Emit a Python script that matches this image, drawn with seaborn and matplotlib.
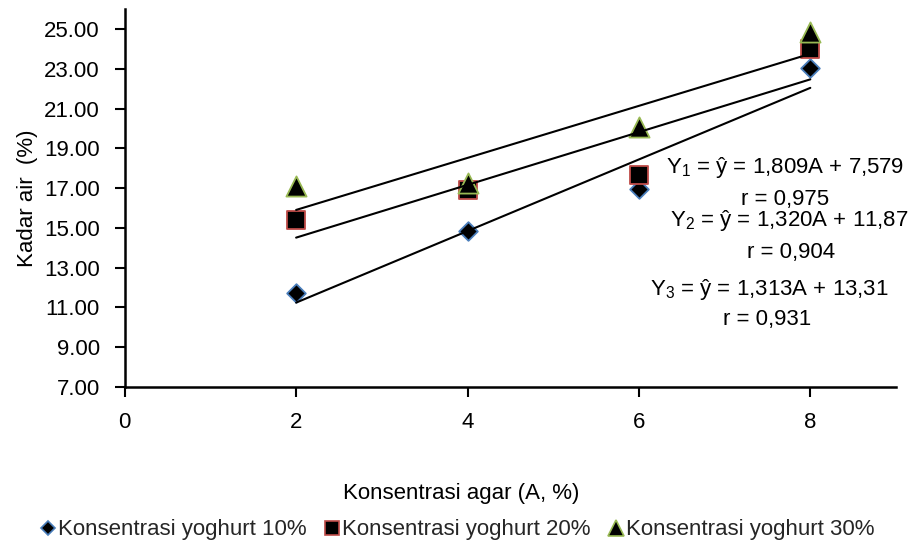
import matplotlib
matplotlib.use("Agg")
import matplotlib.pyplot as plt
import seaborn as sns
import pandas as pd
import numpy as np

# ---- data ----
agar = [2, 4, 6, 8]
series_names = ["Konsentrasi yoghurt 10%", "Konsentrasi yoghurt 20%", "Konsentrasi yoghurt 30%"]
yog10 = [11.72, 14.86, 16.94, 23.04]
yog20 = [15.40, 16.90, 17.66, 24.00]
yog30 = [17.10, 17.24, 20.10, 24.88]
x_ticks = [0, 2, 4, 6, 8]
y_ticks = [7, 9, 11, 13, 15, 17, 19, 21, 23, 25]
eq_lines = ["Y$_{\\mathregular{1}}$ = ŷ = 1,809A + 7,579", "r = 0,975",
            "Y$_{\\mathregular{2}}$ = ŷ = 1,320A + 11,87", "r = 0,904",
            "Y$_{\\mathregular{3}}$ = ŷ = 1,313A + 13,31", "r = 0,931"]

df = pd.DataFrame({
    "agar": agar * 3,
    "kadar": yog10 + yog20 + yog30,
    "seri": [series_names[0]] * 4 + [series_names[1]] * 4 + [series_names[2]] * 4,
})

sns.set_style("ticks")
plt.rcParams["font.family"] = ["Liberation Sans", "DejaVu Sans"]
plt.rcParams["mathtext.fontset"] = "custom"
plt.rcParams["mathtext.rm"] = "Liberation Sans"
plt.rcParams["mathtext.it"] = "Liberation Sans:italic"
plt.rcParams["mathtext.bf"] = "Liberation Sans:bold"

fig = plt.figure(figsize=(9.09, 5.42), dpi=100)
ax = fig.add_axes([0.1372, 0.2865, 0.8485, 0.6963])

styles = {
    series_names[0]: dict(marker="D", s=9.5 ** 2, edgecolor="#4A7EBB"),
    series_names[1]: dict(marker="s", s=12.5 ** 2, edgecolor="#BE4B48"),
    series_names[2]: dict(marker="^", s=14.5 ** 2, edgecolor="#98B954"),
}

handles = []
for name in series_names:
    sub = df[df["seri"] == name]
    st = styles[name]
    sns.scatterplot(data=sub, x="agar", y="kadar", ax=ax, color="black",
                    marker=st["marker"], s=st["s"], edgecolor=st["edgecolor"],
                    linewidth=1.3, zorder=3, legend=False)
    handles.append(plt.Line2D([], [], linestyle="none", marker=st["marker"],
                              markersize=np.sqrt(st["s"]) * 0.8, markerfacecolor="black",
                              markeredgecolor=st["edgecolor"], markeredgewidth=1.2,
                              label=name))

for name in series_names:
    sub = df[df["seri"] == name]
    sns.regplot(data=sub, x="agar", y="kadar", ax=ax, scatter=False, ci=None,
                truncate=True, color="black", line_kws=dict(lw=1.5, zorder=4))

ax.set_xlim(0, 9)
ax.set_ylim(7, 26)
ax.set_xticks(x_ticks)
ax.set_xticklabels([str(v) for v in x_ticks])
ax.set_yticks(y_ticks)
ax.set_yticklabels([f"{v:.2f}" for v in y_ticks])
ax.tick_params(axis="both", labelsize=16, length=7, width=1.5, pad=11, color="black",
               labelcolor="black", direction="out")
for sp in ["top", "right"]:
    ax.spines[sp].set_visible(False)
for sp in ["left", "bottom"]:
    ax.spines[sp].set_linewidth(1.8)
    ax.spines[sp].set_color("black")

ax.set_xlabel("")
ax.set_ylabel("Kadar air  (%)", fontsize=16, labelpad=4.5, color="black")

# equation annotations (data coordinates)
eq_pos = [(7.71, 18.02), (7.71, 16.41), (7.75, 15.35), (7.77, 13.74), (7.52, 11.88), (7.50, 10.37)]
for (tx, ty), txt in zip(eq_pos, eq_lines):
    ax.text(tx, ty, txt, ha="center", va="center", fontsize=16, color="black", zorder=5)

fig.text(461 / 909, 1 - 494 / 542, "Konsentrasi agar (A, %)", ha="center", va="center",
         fontsize=16, color="black")

fig.legend(handles=handles, loc="center", bbox_to_anchor=(457 / 909, 1 - 530 / 542),
           ncol=3, frameon=False, fontsize=16, handletextpad=0.05, columnspacing=0.75,
           handlelength=0.8, borderpad=0, borderaxespad=0)

fig.savefig("out.png", dpi=100)
